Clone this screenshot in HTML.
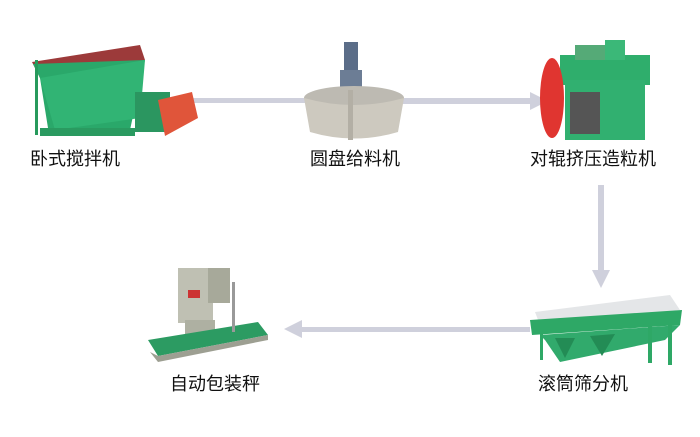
<!DOCTYPE html>
<html><head><meta charset="utf-8"><style>
body{margin:0;background:#fff;width:700px;height:437px;overflow:hidden}
svg{display:block}
text{font-family:"Liberation Sans","Noto Sans CJK SC",sans-serif;font-size:18px;fill:#111}
</style></head><body>
<svg width="700" height="437" viewBox="0 0 700 437">
<g fill="#cfd0dc">
<rect x="190" y="98" width="120" height="5"/>
<rect x="400" y="98" width="135" height="6"/>
<polygon points="530,92 548,101 530,110"/>
<rect x="598" y="185" width="6" height="90"/>
<polygon points="592,270 601,288 610,270"/>
<rect x="300" y="327" width="230" height="5"/>
<polygon points="302,320 284,329 302,338"/>
</g>
<g>
<polygon points="32,62 140,45 145,60 40,78" fill="#9c3a3a"/>
<polygon points="33,64 40,78 48,128 130,130 145,60" fill="#2aa86a"/>
<polygon points="40,78 145,60 140,118 55,130" fill="#31b474"/>
<rect x="40" y="128" width="95" height="8" fill="#2a9a60"/>
<rect x="135" y="92" width="35" height="40" fill="#2b9660"/>
<polygon points="158,100 192,92 198,118 165,136" fill="#e0553a"/>
<rect x="35" y="60" width="3" height="75" fill="#279a5c"/>
</g>
<g>
<rect x="344" y="42" width="14" height="30" fill="#5b6d88"/>
<rect x="340" y="70" width="22" height="20" fill="#6c7d95"/>
<ellipse cx="354" cy="98" rx="50" ry="12" fill="#bdbab2"/>
<path d="M304,98 L310,132 Q354,145 398,132 L404,98 Q354,112 304,98Z" fill="#cdc9bf"/>
<rect x="348" y="90" width="5" height="50" fill="#b3afa5"/>
</g>
<g>
<rect x="560" y="55" width="90" height="30" fill="#2fae6c"/>
<rect x="565" y="80" width="80" height="60" fill="#31b070"/>
<rect x="570" y="92" width="30" height="42" fill="#555"/>
<rect x="605" y="40" width="20" height="20" fill="#3bb878"/>
<ellipse cx="552" cy="98" rx="12" ry="40" fill="#e03530"/>
<rect x="575" y="45" width="30" height="15" fill="#5a7"/>
</g>
<g>
<rect x="178" y="268" width="35" height="55" fill="#bfc0b3"/>
<rect x="208" y="268" width="22" height="35" fill="#a7a99a"/>
<rect x="188" y="290" width="12" height="8" fill="#c33"/>
<rect x="185" y="320" width="30" height="20" fill="#aeb0a2"/>
<polygon points="148,340 258,322 268,335 158,356" fill="#2c9b62"/>
<polygon points="150,352 158,356 268,335 268,340 158,362" fill="#9d9f92"/>
<rect x="232" y="282" width="3" height="50" fill="#999"/>
</g>
<g>
<polygon points="535,312 670,295 680,310 540,325" fill="#e4e6e8"/>
<polygon points="530,320 682,310 680,325 532,335" fill="#2ea866"/>
<polygon points="540,335 680,325 665,340 560,362 545,340" fill="#31aa6c"/>
<polygon points="555,338 575,338 565,358" fill="#238c55"/>
<polygon points="590,336 615,334 602,356" fill="#238c55"/>
<rect x="540" y="330" width="3" height="30" fill="#2ea866"/>
<rect x="668" y="320" width="4" height="45" fill="#2ea866"/>
<rect x="648" y="318" width="4" height="45" fill="#2ea866"/>
</g>
<text x="30" y="165">卧式搅拌机</text>
<text x="310" y="165">圆盘给料机</text>
<text x="530" y="165">对辊挤压造粒机</text>
<text x="170" y="390">自动包装秤</text>
<text x="538" y="390">滚筒筛分机</text>
</svg>
</body></html>
